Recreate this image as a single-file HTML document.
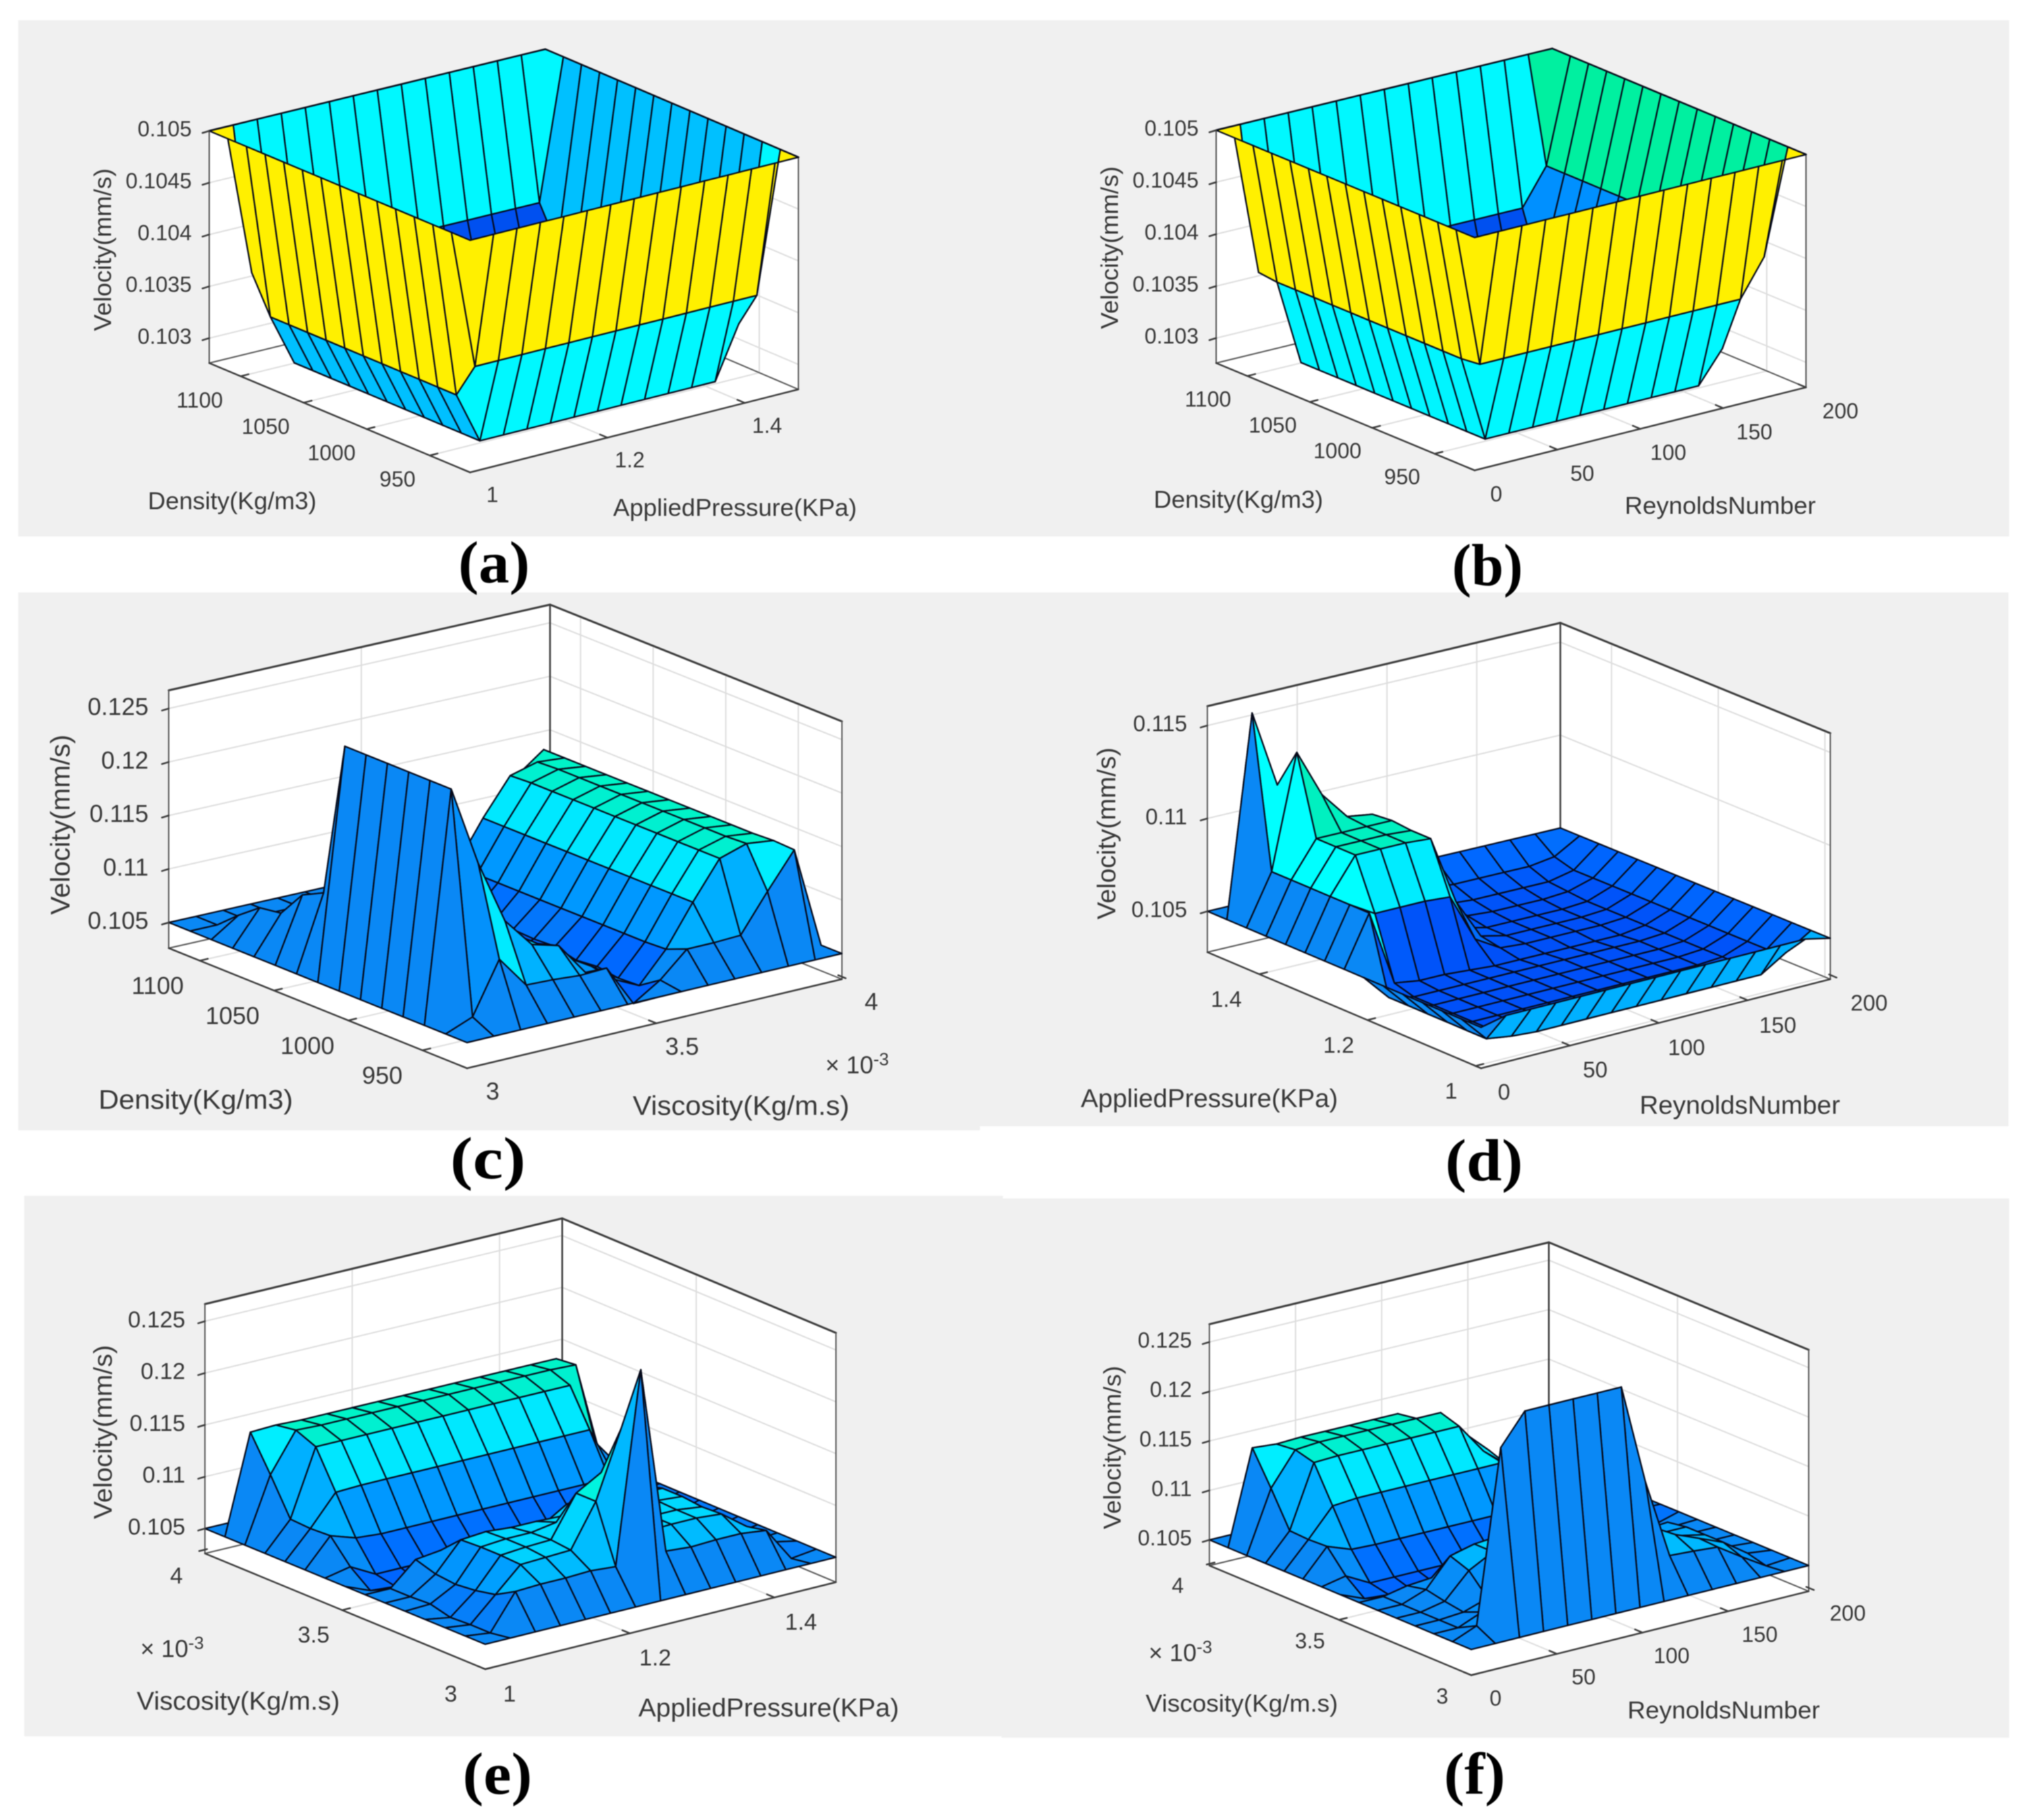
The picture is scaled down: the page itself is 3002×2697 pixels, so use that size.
<!DOCTYPE html>
<html>
<head>
<meta charset="utf-8">
<title>Velocity response surfaces</title>
<style>
html,body{margin:0;padding:0;background:#fff;}
svg{display:block;filter:blur(0.8px);}
text{font-family:"Liberation Sans",sans-serif;fill:#383838;}
.lab{font-family:"Liberation Serif",serif;font-weight:bold;fill:#000;}
</style>
</head>
<body>
<svg id="fig" xmlns="http://www.w3.org/2000/svg" width="3002" height="2697" viewBox="0 0 3002 2697">
<rect width="3002" height="2697" fill="#fff"/>
<rect x="27" y="30" width="1475" height="765" fill="#f0f0f0"/>
<rect x="1500" y="30" width="1477" height="765" fill="#f0f0f0"/>
<rect x="27" y="878" width="1425" height="797" fill="#f0f0f0"/>
<rect x="1450" y="878" width="1526" height="791" fill="#f0f0f0"/>
<rect x="36" y="1772" width="1450" height="801" fill="#f0f0f0"/>
<rect x="1484" y="1776" width="1493" height="799" fill="#f0f0f0"/>
<g id="plots"></g>

<text font-size="36" text-anchor="middle" dy=".35em" transform="translate(152,370) rotate(-90)" textLength="241" lengthAdjust="spacingAndGlyphs">Velocity(mm/s)</text>
<text font-size="36" text-anchor="middle" dy=".35em" x="344" y="742" textLength="250" lengthAdjust="spacingAndGlyphs">Density(Kg/m3)</text>
<text font-size="36" text-anchor="middle" dy=".35em" x="1089" y="752" textLength="361" lengthAdjust="spacingAndGlyphs">AppliedPressure(KPa)</text>
<text class="lab" font-size="88" text-anchor="middle" dy=".32em" x="732" y="835" textLength="106" lengthAdjust="spacingAndGlyphs">(a)</text>

<text font-size="36" text-anchor="middle" dy=".35em" transform="translate(1644,367) rotate(-90)" textLength="241" lengthAdjust="spacingAndGlyphs">Velocity(mm/s)</text>
<text font-size="36" text-anchor="middle" dy=".35em" x="1835" y="740" textLength="251" lengthAdjust="spacingAndGlyphs">Density(Kg/m3)</text>
<text font-size="36" text-anchor="middle" dy=".35em" x="2549" y="749" textLength="283" lengthAdjust="spacingAndGlyphs">ReynoldsNumber</text>
<text class="lab" font-size="88" text-anchor="middle" dy=".32em" x="2204" y="839" textLength="105" lengthAdjust="spacingAndGlyphs">(b)</text>

<text font-size="40" text-anchor="middle" dy=".35em" transform="translate(89,1222) rotate(-90)" textLength="267" lengthAdjust="spacingAndGlyphs">Velocity(mm/s)</text>
<text font-size="40" text-anchor="middle" dy=".35em" x="290" y="1629" textLength="288" lengthAdjust="spacingAndGlyphs">Density(Kg/m3)</text>
<text font-size="40" text-anchor="middle" dy=".35em" x="1098" y="1638" textLength="321" lengthAdjust="spacingAndGlyphs">Viscosity(Kg/m.s)</text>
<text font-size="36" text-anchor="middle" dy=".35em" x="1270" y="1578">× 10<tspan font-size="26" dy="-12">-3</tspan></text>
<text class="lab" font-size="88" text-anchor="middle" dy=".32em" x="723" y="1718" textLength="112" lengthAdjust="spacingAndGlyphs">(c)</text>

<text font-size="38" text-anchor="middle" dy=".35em" transform="translate(1639,1235) rotate(-90)" textLength="255" lengthAdjust="spacingAndGlyphs">Velocity(mm/s)</text>
<text font-size="38" text-anchor="middle" dy=".35em" x="1792" y="1627" textLength="381" lengthAdjust="spacingAndGlyphs">AppliedPressure(KPa)</text>
<text font-size="38" text-anchor="middle" dy=".35em" x="2578" y="1637" textLength="297" lengthAdjust="spacingAndGlyphs">ReynoldsNumber</text>
<text class="lab" font-size="88" text-anchor="middle" dy=".32em" x="2199" y="1721" textLength="115" lengthAdjust="spacingAndGlyphs">(d)</text>

<text font-size="38" text-anchor="middle" dy=".35em" transform="translate(152,2122) rotate(-90)" textLength="258" lengthAdjust="spacingAndGlyphs">Velocity(mm/s)</text>
<text font-size="38" text-anchor="middle" dy=".35em" x="353" y="2520" textLength="301" lengthAdjust="spacingAndGlyphs">Viscosity(Kg/m.s)</text>
<text font-size="38" text-anchor="middle" dy=".35em" x="1139" y="2530" textLength="386" lengthAdjust="spacingAndGlyphs">AppliedPressure(KPa)</text>
<text font-size="36" text-anchor="middle" dy=".35em" x="255" y="2443">× 10<tspan font-size="26" dy="-12">-3</tspan></text>
<text class="lab" font-size="88" text-anchor="middle" dy=".32em" x="737" y="2630" textLength="103" lengthAdjust="spacingAndGlyphs">(e)</text>

<text font-size="36" text-anchor="middle" dy=".35em" transform="translate(1648,2145) rotate(-90)" textLength="242" lengthAdjust="spacingAndGlyphs">Velocity(mm/s)</text>
<text font-size="36" text-anchor="middle" dy=".35em" x="1840" y="2524" textLength="285" lengthAdjust="spacingAndGlyphs">Viscosity(Kg/m.s)</text>
<text font-size="36" text-anchor="middle" dy=".35em" x="2554" y="2534" textLength="285" lengthAdjust="spacingAndGlyphs">ReynoldsNumber</text>
<text font-size="36" text-anchor="middle" dy=".35em" x="1749" y="2449">× 10<tspan font-size="26" dy="-12">-3</tspan></text>
<text class="lab" font-size="88" text-anchor="middle" dy=".32em" x="2185" y="2630" textLength="91" lengthAdjust="spacingAndGlyphs">(f)</text>
</svg>

<script>
// Velocity values are in units of 1e-3 mm/s. Rows run front to back (j), columns run left to right (i).
const velocityA = [
[105,105,105,105,105,105,105,105,105,105,105,105,105,105,105],
[105,103.65,103.65,103.65,103.65,103.65,103.65,103.65,103.65,103.65,103.65,103.65,103.65,103.65,105],
[105,103.3,102.8,102.8,102.8,102.8,102.8,102.8,102.8,102.8,102.8,102.8,102.8,103.3,105],
[105,103.3,102.8,102.8,102.8,102.8,102.8,102.8,102.8,102.8,102.8,102.8,102.8,103.3,105],
[105,103.3,102.8,102.8,102.8,102.8,102.8,102.8,102.8,102.8,102.8,102.8,102.8,103.3,105],
[105,103.3,102.8,102.8,102.8,102.8,102.8,102.8,102.8,102.8,102.8,102.8,102.8,103.3,105],
[105,103.3,102.8,102.8,102.8,102.8,102.8,102.8,102.8,102.8,102.8,102.8,102.8,103.3,105],
[105,103.3,102.8,102.8,102.8,102.8,102.8,102.8,102.8,102.8,102.8,102.8,102.8,103.3,105],
[105,103.3,102.8,102.8,102.8,102.8,102.8,102.8,102.8,102.8,102.8,102.8,102.8,103.3,105],
[105,103.3,102.8,102.8,102.8,102.8,102.8,102.8,102.8,102.8,102.8,102.8,102.8,103.3,105],
[105,103.3,102.8,102.8,102.8,102.8,102.8,102.8,102.8,102.8,102.8,102.8,102.8,103.3,105],
[105,103.3,102.8,102.8,102.8,102.8,102.8,102.8,102.8,102.8,102.8,102.8,102.8,103.3,105],
[105,103.3,102.8,102.8,102.8,102.8,102.8,102.8,102.8,102.8,102.8,102.8,102.8,103.3,105],
[105,103.65,103.65,103.65,103.65,103.65,103.65,103.65,103.65,103.65,103.65,103.65,103.65,103.65,105],
[105,105,105,105,105,105,105,105,105,105,105,105,105,105,105]];

const velocityB = [
[105,105,105,105,105,105,105,105,105,105,105,105,105,105,105],
[105,103.65,103.65,103.65,103.65,103.65,103.65,103.65,103.65,103.65,103.65,103.65,103.65,104,105],
[105,103.63,102.8,102.8,102.8,102.8,102.8,102.8,102.8,102.8,102.8,102.8,103.1,104,105],
[105,103.63,102.8,102.8,102.8,102.8,102.8,102.8,102.8,102.8,102.8,102.8,103.1,104,105],
[105,103.63,102.8,102.8,102.8,102.8,102.8,102.8,102.8,102.8,102.8,102.8,103.1,104,105],
[105,103.63,102.8,102.8,102.8,102.8,102.8,102.8,102.8,102.8,102.8,102.8,103.1,104,105],
[105,103.63,102.8,102.8,102.8,102.8,102.8,102.8,102.8,102.8,102.8,102.8,103.1,104,105],
[105,103.63,102.8,102.8,102.8,102.8,102.8,102.8,102.8,102.8,102.8,102.8,103.1,104,105],
[105,103.63,102.8,102.8,102.8,102.8,102.8,102.8,102.8,102.8,102.8,102.8,103.1,104,105],
[105,103.63,102.8,102.8,102.8,102.8,102.8,102.8,102.8,102.8,102.8,102.8,103.1,104,105],
[105,103.63,102.8,102.8,102.8,102.8,102.8,102.8,102.8,102.8,102.8,102.8,103.1,104,105],
[105,103.63,102.8,102.8,102.8,102.8,102.8,102.8,102.8,102.8,102.8,102.8,103.1,104,105],
[105,103.63,102.8,102.8,102.8,102.8,102.8,102.8,102.8,102.8,102.8,102.8,103.1,104,105],
[105,103.65,103.65,103.65,103.65,103.65,103.65,103.65,103.65,103.65,103.65,103.65,103.65,104,105],
[105,105,105,105,105,105,105,105,105,105,105,105,105,105,105]];

const velocityC = [
[105,105,105,105,105,105,105,105,105,105,105,105,105,105,105],
[105,106,110.8,107.8,107.7,107.5,107.6,103.7,105.3,107.6,107.6,107.7,111.2,114.5,105],
[105,126.5,119,113,110.2,109.5,106.4,105.2,104,106.8,110.6,114.1,114.9,114.6,105],
[105,126.5,113,110.5,110.5,108.9,107.1,105.6,103.9,106.7,110.6,114.1,114.8,114.5,105],
[105,126.5,105.5,105,104.5,104,103.8,103.6,104.2,106.7,110.6,114.1,114.8,114.5,105],
[105,126.5,105.5,105,104.5,104,103.8,103.6,104,106.7,110.6,114.1,114.8,114.5,105],
[105,126.5,105.5,105,104.5,104,103.8,103.6,104.5,106.7,110.6,114.1,114.8,114.5,105],
[105,126.5,105.5,105,104.5,104,103.8,103.6,104.4,106.7,110.6,114.1,114.8,114.5,105],
[105,112,105.5,105,104.5,104,103.8,103.6,104.5,106.7,110.6,114.1,114.8,114.5,105],
[105,111,105.5,105,105,104.5,103.8,103.6,104.2,106.7,110.6,114.1,114.8,114.5,105],
[105,108.5,106,105,105,104.5,104,103.8,104.2,106.7,110.6,114.1,114.8,114.5,105],
[105,108.2,105.5,105,105,105,104.5,104,104.2,106.7,110.6,114.1,114.8,114.5,105],
[105,106.7,105,105,105,105,104.8,104.2,104.4,106.7,110.6,114,114.7,114.5,105],
[105,105,105,105,105,105,105,105,105,105,105.5,108,112.6,114.5,105],
[105,105,105,105,105,105,105,105,105,105,105,105,105,105,105]];

const velocityD = [
[105,105.3,105.3,105.3,105.3,105.3,105.3,105.3,105.3,105.3,105.3,105.3,105.3,105.3,105],
[105,103.6,103.4,103.3,103.3,103.3,103.3,103.3,103.3,103.3,103.3,103.3,103.3,104.15,105],
[105,103.6,103.3,103.3,103.3,103.3,103.3,103.3,103.3,103.3,103.3,103.3,103.4,103.9,105],
[105,103.6,103.3,103.3,103.3,103.3,103.3,103.3,103.3,103.3,103.3,103.3,103.4,103.9,105],
[105,103.6,103.3,103.3,103.3,103.3,103.3,103.3,103.3,103.3,103.3,103.3,103.4,103.9,105],
[105,103.6,103.3,103.3,103.3,103.3,103.3,103.3,103.3,103.3,103.3,103.3,103.4,103.9,105],
[105,103.6,103.3,103.3,103.3,103.3,103.3,103.3,103.3,103.3,103.3,103.3,103.4,103.9,105],
[105,107.7,103.6,103.4,103.4,103.3,103.2,103.2,103.2,103.2,103.2,103.2,103.4,103.9,105],
[105,107.7,106.9,106.9,106.9,106.8,104.2,103.4,103.3,103.3,103.3,103.3,103.4,103.9,105],
[105,107.7,109.6,109.6,109.6,109.5,105.8,103.6,103.3,103.3,103.3,103.3,103.4,103.9,105],
[105,107.7,109.6,109.6,109.6,109.5,105.8,103.6,103.3,103.3,103.3,103.3,103.4,103.9,105],
[105,107.7,109.6,109.6,109.6,109.6,105.8,103.8,103.5,103.4,103.4,103.4,103.5,103.9,105],
[105,107.7,113.8,111.2,109.7,109.5,105.8,104,103.7,103.6,103.6,103.6,103.6,103.9,105],
[105,115.8,111.6,109,106,105,104.6,104.3,104.1,104,104,104,104,104.2,105],
[105,105,105,105,105,105,105,105,105,105,105,105,105,105,105]];

const velocityE = [
[105,105,105,105,105,105,105,105,105,105,105,105,105,105,105],
[105,104.7,108.1,108.2,108.2,108.3,108.1,126.5,108.4,108.2,108.3,108.3,108,104.7,105],
[105,104.7,107,109.3,109.4,109.5,113.6,120,109.5,109.6,109.6,109.4,107.6,105.5,105],
[105,104.6,106.6,109.4,109.6,109.7,113.6,115,109.6,109.6,109.6,109.3,107.5,104.8,105],
[105,105.1,106.4,109.4,109.6,109.6,110,110,109.7,109.7,109.7,109.5,107.5,104.6,105],
[105,105,106.6,109.3,109.5,109.3,109.3,109.2,109.6,109.6,109.6,109.5,107.3,104.5,105],
[105,105,107.2,107.5,108,108,107.5,107.5,109,109,109,109,107,104.5,105],
[105,104,103.8,103.6,103.6,103.6,103.6,103.6,103.6,103.6,103.6,103.6,103.6,104.2,105],
[105,105.5,104.2,104.2,104.2,104.2,104.2,104.2,104.2,104.2,104.2,104.2,104.2,104.5,105],
[105,107.7,106.9,106.7,106.7,106.7,106.7,106.7,106.7,106.7,106.7,106.7,106.7,105,105],
[105,107.6,110.5,110.6,110.6,110.6,110.6,110.6,110.6,110.6,110.6,110.6,110.6,105.5,105],
[105,107.7,114.1,114.1,114.1,114.1,114.1,114.1,114.1,114.1,114.1,114.1,114.1,108,105],
[105,111.2,114.9,114.8,114.8,114.8,114.8,114.8,114.8,114.8,114.8,114.8,114.8,114.7,105],
[105,114.5,114.6,114.5,114.5,114.5,114.5,114.5,114.5,114.5,114.5,114.5,114.5,114.5,105],
[105,105,105,105,105,105,105,105,105,105,105,105,105,105,105]];

const velocityF = [
[105,105,105,105,105,105,105,105,105,105,105,105,105,105,105],
[105,106,123.4,126.5,126.5,126.5,126.5,126.5,116.3,108.25,108.1,107.9,106.3,104.8,105],
[105,105,106,108,108,108,108,108,108,110.4,109,108,107,105.3,105],
[105,105,105.2,106,107,108,108,107,107,109,108,107.5,107,105.2,105],
[105,105,105.5,108,109.3,109.5,109.5,108,107,106,107,107,107,105,105],
[105,105,105.9,108.7,109.3,109.5,109.5,109,107,105.5,106,106.5,106.7,105,105],
[105,105,105.5,105.7,107.6,108,107,106,105,104.5,104.5,104.5,105,104.9,105],
[105,104,103.8,103.6,103.6,103.6,103.6,103.6,103.6,103.6,103.8,104.5,105,104.3,105],
[105,105.5,104.2,104.2,104.2,104.2,104.2,104.2,104.2,104.2,104.4,104.8,105,105,105],
[105,107.7,106.8,106.7,106.7,106.7,106.7,106.7,106.7,106.7,106,105,105,105,105],
[105,107.6,110.4,110.6,110.6,110.6,110.6,110.6,110.6,110.6,108,105.5,105,105,105],
[105,107.7,114,114.1,114.1,114.1,114.1,114.1,114.1,111,109,106,105,105,105],
[105,111.2,114.5,114.7,114.7,114.7,114.7,114.7,114.7,112,109.7,106,105,105,105],
[105,114.5,114.3,114.4,114.4,114.4,114.4,114.4,112.6,107,105,105,105,105,105],
[105,105,105,105,105,105,105,105,105,105,105,105,105,105,105]];

// Tick values and printed labels
const zTicksNarrow = [105,104.5,104,103.5,103];
const zLabelsNarrow = ['0.105','0.1045','0.104','0.1035','0.103'];
const zTicksWide = [125,120,115,110,105];
const zLabelsWide = ['0.125','0.12','0.115','0.11','0.105'];
const zTicksD = [115,110,105];
const zLabelsD = ['0.115','0.11','0.105'];
const densityTicks = [950,1000,1050,1100];
const densityLabels = ['950','1000','1050','1100'];
const pressureTicks = [1,1.2,1.4];
const pressureLabels = ['1','1.2','1.4'];
const reynoldsTicks = [0,50,100,150,200];
const reynoldsLabels = ['0','50','100','150','200'];
const viscosityTicks = [3,3.5,4];
const viscosityLabels = ['3','3.5','4'];

// Colour scales: velocity stops and matching colours
const narrowStops = [102.8,103.1,103.3,103.65,104,105];
const narrowColors = ['#0050f0','#0090ff','#00c0ff','#00f8ff','#00f0a0','#fff000'];
const wideStops = [103.6,104.2,105,106.7,107.7,109.6,110.6,112.5,114.1,114.8];
const wideColors = ['#0060ff','#0070ff','#0a88f5','#0098ff','#00b0ff','#00d8ff','#00e8ff','#00fcff','#00f0d0','#00f4c8'];
const dStops = [103.3,104,105,105.3,106.9,107.7,109.6,113.8];
const dColors = ['#0050f8','#0068ff','#0a88f5','#00b0ff','#00ecff','#00ffff','#00f0c0','#00f0a0'];

const panels = [
 {id:'a',z:velocityA,F:[696.5,700],R:[1183,577],L:[310,538],B:[808,417],H:344,xlim:[1,1.478],ylim:[918,1125],zlim:[102.76,105],
  xT:pressureTicks,xL:pressureLabels,yT:densityTicks,yL:densityLabels,zT:zTicksNarrow,zL:zLabelsNarrow,
  xOff:[33,33],xEnd:[33,33],yOff:[-45,35],yEnd:[-63,35],zOff:-26,zFont:32,tFont:32,stops:narrowStops,colors:narrowColors},
 {id:'b',z:velocityB,F:[2185,697],R:[2676,574],L:[1802,538],B:[2300,417],H:345,xlim:[0,200],ylim:[918,1125],zlim:[102.76,105],
  xT:reynoldsTicks,xL:reynoldsLabels,yT:densityTicks,yL:densityLabels,zT:zTicksNarrow,zL:zLabelsNarrow,
  xOff:[32,35],xEnd:[51,35],yOff:[-46,34],yEnd:[-60,34],zOff:-26,zFont:32,tFont:32,stops:narrowStops,colors:narrowColors},
 {id:'c',z:velocityC,F:[692,1583],R:[1247.5,1451],L:[250,1405],B:[815,1278],H:382,xlim:[3,3.99],ylim:[920,1121],zlim:[102.6,126.7],
  xT:viscosityTicks,xL:viscosityLabels,yT:densityTicks,yL:densityLabels,zT:zTicksWide,zL:zLabelsWide,
  xOff:[38,34],xEnd:[38,34],yOff:[-59,37],yEnd:[-63,37],zOff:-30,zFont:36,tFont:36,stops:wideStops,colors:wideColors},
 {id:'d',z:velocityD,F:[2194.5,1583],R:[2712,1451],L:[1789,1411],B:[2312,1287.5],H:364.5,xlim:[0,196.5],ylim:[0.99,1.496],zlim:[102.8,116.04],
  xT:reynoldsTicks,xL:reynoldsLabels,yT:pressureTicks,yL:pressureLabels,zT:zTicksD,zL:zLabelsD,
  xOff:[34,35],xEnd:[48,37],yOff:[-36,37],yEnd:[-52,37],zOff:-30,zFont:33,tFont:33,stops:dStops,colors:dColors},
 {id:'e',z:velocityE,F:[719,2473.5],R:[1238.6,2344.6],L:[303.6,2302],B:[833,2175],H:369.5,xlim:[1,1.485],ylim:[3,3.98],zlim:[102.6,126.65],
  xT:pressureTicks,xL:pressureLabels,yT:viscosityTicks,yL:viscosityLabels,zT:zTicksWide,zL:zLabelsWide,
  xOff:[36,36],xEnd:[40,36],yOff:[-51,36],yEnd:[-34,36],zOff:-29,zFont:34,tFont:34,stops:wideStops,colors:wideColors},
 {id:'f',z:velocityF,F:[2180,2482.4],R:[2680,2358],L:[1792,2320],B:[2295,2198.7],H:357.7,xlim:[0,197],ylim:[3,3.99],zlim:[102.4,126.8],
  xT:reynoldsTicks,xL:reynoldsLabels,yT:viscosityTicks,yL:viscosityLabels,zT:zTicksWide,zL:zLabelsWide,
  xOff:[36,34],xEnd:[50,34],yOff:[-43,31],yEnd:[-43,31],zOff:-26,zFont:32,tFont:32,stops:wideStops,colors:wideColors}
];

const SVGNS = 'http://www.w3.org/2000/svg';
const plots = document.getElementById('plots');

function makeAxes(p){
  const {F,R,L,B,H,xlim,ylim,zlim} = p;
  return function(x,y,z){
    const u=(x-xlim[0])/(xlim[1]-xlim[0]);
    const v=(y-ylim[0])/(ylim[1]-ylim[0]);
    const w=(z-zlim[0])/(zlim[1]-zlim[0]);
    const kx=B[0]-R[0]-L[0]+F[0], ky=B[1]-R[1]-L[1]+F[1];
    const px=F[0]+u*(R[0]-F[0])+v*(L[0]-F[0])+u*v*kx;
    const py=F[1]+u*(R[1]-F[1])+v*(L[1]-F[1])+u*v*ky-w*H;
    return [px,py];
  };
}
function hexToRgb(h){return [parseInt(h.slice(1,3),16),parseInt(h.slice(3,5),16),parseInt(h.slice(5,7),16)];}
function colorFor(z,stops,colors){
  if(z<=stops[0]) return colors[0];
  const n=stops.length-1;
  if(z>=stops[n]) return colors[n];
  for(let k=0;k<n;k++){
    if(z<=stops[k+1]){
      const t=(z-stops[k])/(stops[k+1]-stops[k]);
      const a=hexToRgb(colors[k]),b=hexToRgb(colors[k+1]);
      return 'rgb('+a.map((c,m)=>Math.round(c+(b[m]-c)*t)).join(',')+')';
    }
  }
  return colors[n];
}
function pts(list){return list.map(q=>q[0].toFixed(1)+','+q[1].toFixed(1)).join(' ');}
function lerpOffset(a,b,t){return [a[0]+(b[0]-a[0])*t,a[1]+(b[1]-a[1])*t];}

function drawWall(g,list,name){
  const el=document.createElementNS(SVGNS,'polygon');
  el.setAttribute('points',pts(list));
  el.setAttribute('fill','#ffffff');
  
  
  g.appendChild(el);
}
function drawLine(g,a,b,stroke,width,name){
  const el=document.createElementNS(SVGNS,'line');
  el.setAttribute('x1',a[0].toFixed(1));
  el.setAttribute('y1',a[1].toFixed(1));
  el.setAttribute('x2',b[0].toFixed(1));
  el.setAttribute('y2',b[1].toFixed(1));
  el.setAttribute('stroke',stroke);
  el.setAttribute('stroke-width',width);
  el.setAttribute('stroke-linecap','round');
  
  
  g.appendChild(el);
}
function drawLabel(g,str,x,y,size,anchor,name){
  const el=document.createElementNS(SVGNS,'text');
  el.textContent=str;
  el.setAttribute('x',x.toFixed(1));
  el.setAttribute('y',y.toFixed(1));
  el.setAttribute('dy','.35em');
  el.setAttribute('font-size',size);
  el.setAttribute('text-anchor',anchor);
  
  
  g.appendChild(el);
}

function renderPanel(p){
  const P=makeAxes(p);
  const [x0,x1]=p.xlim,[y0,y1]=p.ylim,[z0,z1]=p.zlim;
  const g=document.createElementNS(SVGNS,'g');
  
  
  plots.appendChild(g);

  drawWall(g,[P(x0,y1,z0),P(x1,y1,z0),P(x1,y1,z1),P(x0,y1,z1)],'panel-'+p.id+'-back-left-wall');
  drawWall(g,[P(x1,y0,z0),P(x1,y1,z0),P(x1,y1,z1),P(x1,y0,z1)],'panel-'+p.id+'-back-right-wall');
  drawWall(g,[P(x0,y0,z0),P(x1,y0,z0),P(x1,y1,z0),P(x0,y1,z0)],'panel-'+p.id+'-floor');

  const GRID='#dddddd';
  p.zT.forEach(t=>{
    drawLine(g,P(x0,y1,t),P(x1,y1,t),GRID,2,'panel-'+p.id+'-z-gridline');
    drawLine(g,P(x1,y1,t),P(x1,y0,t),GRID,2,'panel-'+p.id+'-z-gridline');
  });
  p.xT.forEach(t=>{
    if(t<=x0||t>=x1) return;
    drawLine(g,P(t,y1,z0),P(t,y1,z1),GRID,2,'panel-'+p.id+'-x-gridline');
    drawLine(g,P(t,y0,z0),P(t,y1,z0),GRID,2,'panel-'+p.id+'-x-gridline');
  });
  p.yT.forEach(t=>{
    if(t<=y0||t>=y1) return;
    drawLine(g,P(x1,t,z0),P(x1,t,z1),GRID,2,'panel-'+p.id+'-y-gridline');
    drawLine(g,P(x0,t,z0),P(x1,t,z0),GRID,2,'panel-'+p.id+'-y-gridline');
  });

  const BOX='#3c3c3c';
  drawLine(g,P(x0,y1,z0),P(x1,y1,z0),'#555',2,'panel-'+p.id+'-box-edge');
  drawLine(g,P(x1,y1,z0),P(x1,y0,z0),'#555',2,'panel-'+p.id+'-box-edge');
  drawLine(g,P(x1,y1,z0),P(x1,y1,z1),BOX,2.5,'panel-'+p.id+'-box-edge');
  drawLine(g,P(x0,y1,z1),P(x1,y1,z1),BOX,3,'panel-'+p.id+'-box-edge');
  drawLine(g,P(x1,y1,z1),P(x1,y0,z1),BOX,3,'panel-'+p.id+'-box-edge');
  drawLine(g,P(x0,y1,z0),P(x0,y1,z1),'#555',2,'panel-'+p.id+'-box-edge');
  drawLine(g,P(x1,y0,z0),P(x1,y0,z1),'#555',2,'panel-'+p.id+'-box-edge');
  drawLine(g,P(x0,y0,z0),P(x1,y0,z0),BOX,2.5,'panel-'+p.id+'-x-axis-line');
  drawLine(g,P(x0,y0,z0),P(x0,y1,z0),BOX,2.5,'panel-'+p.id+'-y-axis-line');

  // Surface: painted back to front, each cell coloured by its first vertex
  const rows=p.z.length, cols=p.z[0].length;
  const gx=i=>x0+(x1-x0)*i/(cols-1);
  const gy=j=>y0+(y1-y0)*j/(rows-1);
  for(let j=rows-2;j>=0;j--){
    for(let i=cols-2;i>=0;i--){
      const cell=document.createElementNS(SVGNS,'polygon');
      cell.setAttribute('points',pts([P(gx(i),gy(j),p.z[j][i]),P(gx(i+1),gy(j),p.z[j][i+1]),P(gx(i+1),gy(j+1),p.z[j+1][i+1]),P(gx(i),gy(j+1),p.z[j+1][i])]));
      cell.setAttribute('fill',colorFor(p.z[j][i],p.stops,p.colors));
      cell.setAttribute('stroke','#060a1a');
      cell.setAttribute('stroke-width','2.2');
      cell.setAttribute('stroke-linejoin','round');
      
      
      g.appendChild(cell);
    }
  }

  // Ticks and tick labels
  const TICK=12;
  const ux=[p.R[0]-p.F[0],p.R[1]-p.F[1]], uy=[p.L[0]-p.F[0],p.L[1]-p.F[1]];
  const lx=Math.hypot(ux[0],ux[1]), ly=Math.hypot(uy[0],uy[1]);
  p.xT.forEach((t,k)=>{
    const a=P(t,y0,z0);
    const o=lerpOffset(p.xOff,p.xEnd,(t-x0)/(x1-x0));
    drawLine(g,a,[a[0]+uy[0]/ly*TICK,a[1]+uy[1]/ly*TICK],BOX,2.5,'panel-'+p.id+'-x-tick');
    drawLabel(g,p.xL[k],a[0]+o[0],a[1]+o[1],p.tFont,'middle','panel-'+p.id+'-x-tick-label');
  });
  p.yT.forEach((t,k)=>{
    const a=P(x0,t,z0);
    const o=lerpOffset(p.yOff,p.yEnd,(t-y0)/(y1-y0));
    drawLine(g,a,[a[0]+ux[0]/lx*TICK,a[1]+ux[1]/lx*TICK],BOX,2.5,'panel-'+p.id+'-y-tick');
    drawLabel(g,p.yL[k],a[0]+o[0],a[1]+o[1],p.tFont,'middle','panel-'+p.id+'-y-tick-label');
  });
  p.zT.forEach((t,k)=>{
    const a=P(x0,y1,t);
    drawLine(g,a,[a[0]-10,a[1]+3],BOX,2.5,'panel-'+p.id+'-z-tick');
    drawLabel(g,p.zL[k],a[0]+p.zOff,a[1]-3,p.zFont,'end','panel-'+p.id+'-z-tick-label');
  });
}
panels.forEach(renderPanel);
</script>
</body>
</html>
